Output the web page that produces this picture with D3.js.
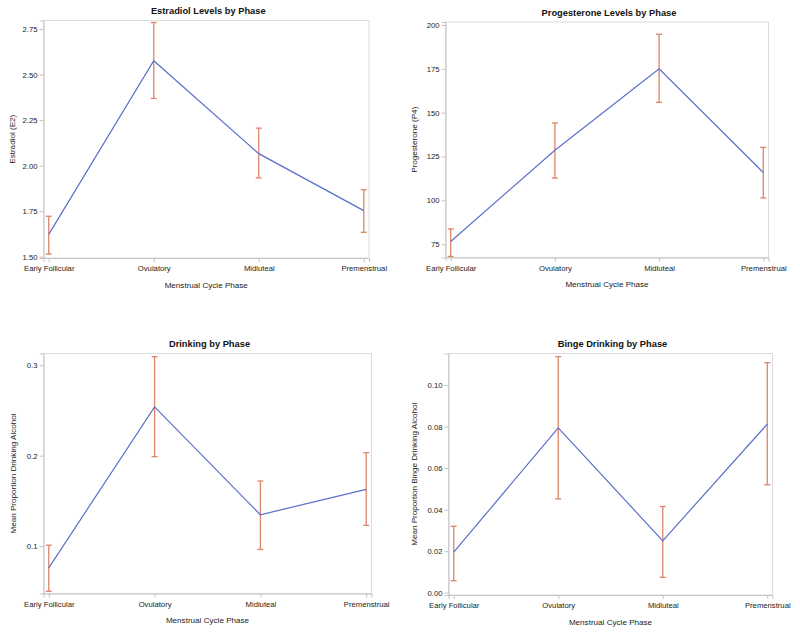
<!DOCTYPE html>
<html><head><meta charset="utf-8">
<script src="https://cdn.jsdelivr.net/npm/d3@7"></script>
<style>
html,body{margin:0;padding:0;background:#fff;}
svg{display:block;font-family:"Liberation Sans",Arial,Helvetica,sans-serif;}
</style></head>
<body>
<svg id="chart" width="800" height="636"></svg>
<script>
// ---- data ----
const phases = ["Early Follicular", "Ovulatory", "Midluteal", "Premenstrual"];

const estradiolMean  = [1.623, 2.576, 2.066, 1.753];
const estradiolLower = [1.515, 2.369, 1.933, 1.634];
const estradiolUpper = [1.722, 2.786, 2.206, 1.868];
const estradiolTicks = [1.50, 1.75, 2.00, 2.25, 2.50, 2.75];

const progesteroneMean  = [76.5, 128.6, 175.0, 115.9];
const progesteroneLower = [68.0, 112.7, 155.9, 101.4];
const progesteroneUpper = [83.7, 144.1, 194.7, 130.2];
const progesteroneTicks = [75, 100, 125, 150, 175, 200];

const drinkingMean  = [0.076, 0.254, 0.1347, 0.1628];
const drinkingLower = [0.050, 0.199, 0.0963, 0.123];
const drinkingUpper = [0.101, 0.3095, 0.172, 0.2033];
const drinkingTicks = [0.1, 0.2, 0.3];

const bingeMean  = [0.0195, 0.0794, 0.0250, 0.0812];
const bingeLower = [0.0058, 0.0452, 0.0074, 0.0520];
const bingeUpper = [0.0320, 0.1137, 0.0415, 0.1108];
const bingeTicks = [0.00, 0.02, 0.04, 0.06, 0.08, 0.10];

const titles = ["Estradiol Levels by Phase", "Progesterone Levels by Phase", "Drinking by Phase", "Binge Drinking by Phase"];
const yTitles = ["Estradiol (E2)", "Progesterone (P4)", "Mean Proportion Drinking Alcohol", "Mean Proportion Binge Drinking Alcohol"];
const xTitle = "Menstrual Cycle Phase";

// ---- layout (positions separate from data) ----
const panels = [
  {mean: estradiolMean, lo: estradiolLower, hi: estradiolUpper, ticks: estradiolTicks, fmt: d3.format(".2f"),
   x0: 43.5, x1: 369, y0: 20.5, y1: 258, dom: [1.493, 2.797], yt: 12},
  {mean: progesteroneMean, lo: progesteroneLower, hi: progesteroneUpper, ticks: progesteroneTicks, fmt: d3.format("d"),
   x0: 445.5, x1: 768.5, y0: 22, y1: 257.5, dom: [67.4, 201.7], yt: 414},
  {mean: drinkingMean, lo: drinkingLower, hi: drinkingUpper, ticks: drinkingTicks, fmt: d3.format(".1f"),
   x0: 43.5, x1: 371.5, y0: 353.5, y1: 593.5, dom: [0.0476, 0.313], yt: 13.5},
  {mean: bingeMean, lo: bingeLower, hi: bingeUpper, ticks: bingeTicks, fmt: d3.format(".2f"),
   x0: 448.5, x1: 772.5, y0: 353.5, y1: 595, dom: [-0.0011, 0.1152], yt: 414}
];

const lineColor = "#5a6fc8";
const errColor = "#dc8468";
const frameColor = "#c4c4c4";
const textColor = "#222";

const svg = d3.select("#chart");

panels.forEach((p, i) => {
  const g = svg.append("g");
  const x = d3.scalePoint().domain(phases).range([p.x0, p.x1]).padding(0.05);
  const y = d3.scaleLinear().domain(p.dom).range([p.y1, p.y0]);

  // frame
  g.append("rect").attr("x", p.x0).attr("y", p.y0)
    .attr("width", p.x1 - p.x0).attr("height", p.y1 - p.y0)
    .attr("fill", "none").attr("stroke", "#dcdcdc").attr("stroke-width", 1);

  // axes
  const yAxis = d3.axisLeft(y).tickValues(p.ticks).tickFormat(p.fmt).tickSize(4).tickPadding(2);
  const ya = g.append("g").attr("transform", `translate(${p.x0},0)`).call(yAxis);
  const xAxis = d3.axisBottom(x).tickSize(4).tickPadding(4);
  const xa = g.append("g").attr("transform", `translate(0,${p.y1})`).call(xAxis);
  [ya, xa].forEach(a => {
    a.select(".domain").attr("stroke", frameColor);
    a.selectAll(".tick line").attr("stroke", frameColor);
    a.selectAll(".tick text").attr("fill", textColor).style("font-size", "7.7px")
      .style("font-family", '"Liberation Sans",Arial,Helvetica,sans-serif');
  });

  // error bars
  const eb = g.append("g").attr("stroke", errColor).attr("stroke-width", 1.3).attr("fill", "none");
  phases.forEach((ph, k) => {
    const cx = x(ph);
    const yl = Math.min(y(p.lo[k]), p.y1), yh = y(p.hi[k]);
    eb.append("line").attr("x1", cx).attr("x2", cx).attr("y1", yl).attr("y2", yh);
    eb.append("line").attr("x1", cx - 3).attr("x2", cx + 3).attr("y1", yh).attr("y2", yh);
    eb.append("line").attr("x1", cx - 3).attr("x2", cx + 3).attr("y1", yl).attr("y2", yl);
  });

  // mean line
  const line = d3.line().x((d, k) => x(phases[k])).y(d => y(d));
  g.append("path").datum(p.mean).attr("d", line)
    .attr("fill", "none").attr("stroke", lineColor).attr("stroke-width", 1.2);

  // titles
  const cx = (p.x0 + p.x1) / 2;
  g.append("text").attr("x", cx + 2).attr("y", p.y0 - 6.5).attr("text-anchor", "middle")
    .attr("fill", "#111").style("font-size", "9.3px").style("font-weight", "bold").text(titles[i]);
  g.append("text").attr("x", cx).attr("y", p.y1 + 29.5).attr("text-anchor", "middle")
    .attr("fill", textColor).style("font-size", "8.1px").text(xTitle);
  g.append("text").attr("transform", `translate(${p.yt},${(p.y0 + p.y1) / 2}) rotate(-90)`)
    .attr("text-anchor", "middle").attr("dy", "0.35em")
    .attr("fill", textColor).style("font-size", "8.1px").text(yTitles[i]);
});
</script>
</body></html>
